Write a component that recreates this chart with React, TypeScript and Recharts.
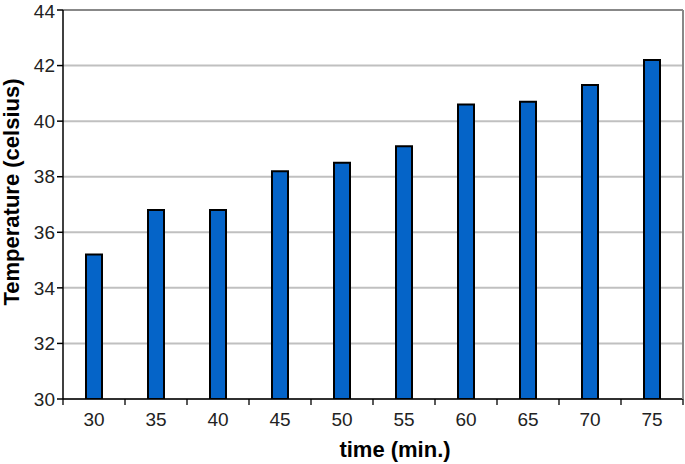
import React from "react";
import { BarChart, Bar, XAxis, YAxis, CartesianGrid, ReferenceLine } from "recharts";

const categories = ["30", "35", "40", "45", "50", "55", "60", "65", "70", "75"];
const temperatures = [35.2, 36.8, 36.8, 38.2, 38.5, 39.1, 40.6, 40.7, 41.3, 42.2];
const yTicks = [30, 32, 34, 36, 38, 40, 42, 44];

const data = categories.map((c, i) => ({ time: c, temp: temperatures[i] }));

const W = 685;
const H = 464;
const M = { top: 10, right: 2, left: 0, bottom: 35 };
const Y_W = 63;
const PLOT_W = W - M.left - M.right - Y_W;
const BAND = PLOT_W / categories.length;
const FONT = "Liberation Sans, Arial, sans-serif";

const XTick = (props: any) => {
  const { x, y, payload, index } = props;
  const half = BAND / 2;
  return (
    <g>
      <line x1={x - half} x2={x - half} y1={y - 8} y2={y - 2} stroke="#000" strokeWidth={1.3} />
      {index === categories.length - 1 && (
        <line x1={x + half} x2={x + half} y1={y - 8} y2={y - 2} stroke="#000" strokeWidth={1.3} />
      )}
      <text x={x} y={y + 19} textAnchor="middle" fontSize={19} fontFamily={FONT} fill="#222">
        {payload.value}
      </text>
    </g>
  );
};

export default function App() {
  return (
    <div style={{ position: "absolute", left: 0, top: 0, width: W, height: H, background: "#fff" }}>
      <BarChart width={W} height={H} data={data} margin={M} barCategoryGap={0}>
        <CartesianGrid vertical={false} stroke="#c0c0c0" strokeWidth={2} />
        <ReferenceLine y={44} stroke="#888" strokeWidth={2} />
        <XAxis
          dataKey="time"
          stroke="#000"
          strokeWidth={1.5}
          tickLine={false}
          tick={<XTick />}
          height={30}
          interval={0}
        />
        <YAxis
          domain={[30, 44]}
          ticks={yTicks}
          width={Y_W}
          stroke="#000"
          strokeWidth={1.5}
          tickSize={6}
          tick={{ fontSize: 19, fontFamily: FONT, fill: "#222" }}
          allowDataOverflow
        />
        <Bar dataKey="temp" fill="#0564c8" stroke="#000" strokeWidth={2} barSize={16} isAnimationActive={false} />
        <text
          x={11}
          y={192}
          transform="rotate(-90 11 192)"
          textAnchor="middle"
          dominantBaseline="central"
          fontSize={22}
          fontWeight="bold"
          fontFamily={FONT}
          fill="#000"
        >
          Temperature (celsius)
        </text>
        <text
          x={395}
          y={449}
          textAnchor="middle"
          dominantBaseline="central"
          fontSize={22}
          fontWeight="bold"
          fontFamily={FONT}
          fill="#000"
        >
          time (min.)
        </text>
      </BarChart>
      <div style={{ position: "absolute", left: W - 3, top: 10, width: 2, height: 389, background: "#888" }} />
    </div>
  );
}
